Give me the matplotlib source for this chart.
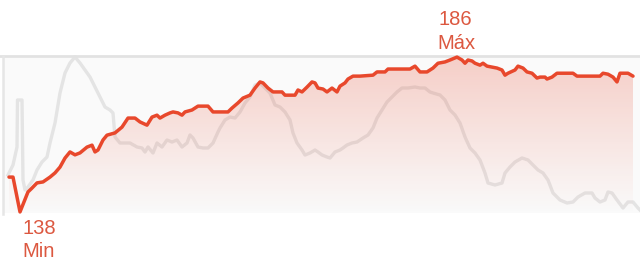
import numpy as np
import matplotlib.pyplot as plt
from matplotlib.colors import LinearSegmentedColormap

# heart rate (bpm) over elapsed time (min)
hr_time = [0.9, 1.3, 2.0, 2.8, 3.2, 3.7, 4.3, 5.0, 5.5, 6.0, 6.5, 7.0, 7.5, 8.0,
           8.7, 9.2, 9.5, 9.8, 10.3, 10.7, 11.5, 12.2, 12.8, 13.5, 14.0, 14.7,
           15.2, 15.7, 16.0, 16.5, 17.0, 17.3, 17.8, 18.2, 18.5, 19.2, 19.8,
           20.8, 21.3, 22.8, 23.2, 23.8, 24.3, 25.0, 25.5, 26.0, 26.3, 26.8,
           27.3, 28.2, 28.5, 29.5, 29.8, 30.2, 30.7, 31.2, 31.5, 31.8, 32.3,
           32.7, 33.2, 33.7, 34.0, 34.5, 34.8, 35.3, 36.0, 37.3, 37.7, 38.5,
           38.8, 41.0, 41.5, 42.0, 42.7, 43.3, 43.8, 44.5, 45.0, 45.7, 46.2,
           46.5, 46.8, 47.2, 47.5, 48.0, 48.3, 48.7, 49.2, 49.7, 50.2, 50.5,
           50.8, 51.5, 51.8, 52.3, 52.7, 53.2, 53.7, 54.0, 54.5, 54.7, 55.2,
           55.7, 57.3, 57.7, 60.0, 60.3, 60.8, 61.3, 61.7, 62.0, 62.8, 63.3]
hr_bpm = [148.8, 148.8, 138.0, 144.2, 145.4, 147.0, 147.3, 148.8, 150.1, 151.9,
          154.7, 156.6, 155.7, 156.3, 158.1, 158.7, 156.6, 157.2, 160.3, 161.8,
          162.5, 164.3, 167.1, 167.1, 165.9, 164.9, 167.4, 168.0, 167.1, 168.0,
          168.7, 169.0, 168.7, 168.0, 169.0, 169.6, 170.8, 170.8, 169.0, 169.0,
          170.2, 171.8, 173.3, 174.2, 176.4, 178.3, 178.0, 176.4, 175.2, 175.2,
          174.2, 174.2, 175.8, 175.2, 176.7, 178.3, 178.0, 176.4, 176.1, 175.2,
          176.4, 175.2, 177.0, 178.0, 179.2, 180.1, 180.1, 180.4, 181.4, 181.4,
          182.3, 182.3, 183.2, 181.4, 181.4, 182.6, 184.1, 184.5, 185.1, 186.0,
          185.1, 184.1, 185.1, 184.8, 184.1, 183.5, 184.1, 183.2, 182.9, 182.6,
          182.0, 180.4, 181.0, 182.0, 183.2, 182.6, 181.4, 181.0, 179.5, 179.8,
          179.8, 179.2, 179.8, 181.0, 181.0, 180.1, 180.1, 181.0, 180.7, 179.8,
          178.3, 181.0, 181.0, 180.1]

# background series (speed, km/h)
sp_time = [0.8, 1.3, 1.7, 1.75, 2.2, 2.3, 2.5, 2.8, 3.3, 3.7, 4.2, 4.7, 5.0,
           5.5, 6.0, 6.5, 7.0, 7.5, 8.0, 8.5, 9.0, 9.5, 10.0, 10.5, 11.0,
           11.3, 11.5, 12.0, 13.0, 13.7, 14.2, 14.5, 14.8, 15.3, 15.7, 16.2,
           16.7, 17.2, 17.7, 18.2, 18.7, 19.0, 19.3, 19.8, 20.3, 20.8, 21.3,
           21.8, 22.0, 22.5, 23.0, 23.5, 24.0, 24.5, 25.0, 25.5, 26.0, 26.5,
           27.0, 27.5, 28.0, 28.5, 29.0, 29.3, 29.7, 30.2, 30.5, 31.0, 31.5,
           31.8, 32.2, 32.7, 33.0, 33.5, 34.0, 34.3, 34.7, 35.2, 35.7, 36.3,
           36.8, 37.3, 37.7, 38.2, 38.7, 39.2, 39.7, 40.2, 40.8, 41.5, 42.0,
           42.5, 43.0, 43.3, 44.0, 44.5, 45.0, 45.5, 46.0, 46.5, 47.0, 47.5,
           48.0, 48.5, 48.8, 49.5, 50.2, 50.5, 51.0, 51.5, 52.2, 52.8, 53.3,
           53.8, 54.3, 54.8, 55.3, 56.0, 56.7, 57.3, 57.8, 58.5, 59.2, 59.5,
           60.0, 60.5, 60.8, 61.2, 61.7, 62.3, 62.8, 63.3, 63.8, 64.0]
sp_kmh = [9.5, 10.5, 12.3, 17.0, 17.0, 9.0, 8.0, 8.3, 9.0, 10.0, 10.8, 11.3,
          12.7, 14.7, 17.7, 19.7, 20.7, 21.3, 20.7, 20.0, 19.3, 18.3, 17.3,
          16.3, 16.0, 15.7, 13.3, 12.7, 12.7, 12.3, 12.2, 11.8, 12.3, 11.7,
          12.7, 12.3, 13.0, 12.8, 13.0, 12.3, 12.7, 13.5, 13.2, 12.3, 12.2,
          12.2, 12.7, 13.8, 14.2, 15.0, 15.3, 15.2, 15.8, 16.7, 17.3, 18.5,
          18.7, 18.2, 17.7, 16.5, 16.3, 15.8, 15.0, 13.7, 12.7, 12.0, 11.5,
          11.7, 12.0, 11.8, 11.5, 11.3, 11.2, 11.8, 12.0, 12.2, 12.5, 12.7,
          12.8, 13.2, 13.5, 14.2, 15.2, 16.0, 16.8, 17.3, 17.8, 18.2, 18.2,
          18.3, 18.2, 18.2, 17.8, 17.7, 17.5, 17.0, 16.0, 15.5, 14.7, 13.3,
          12.2, 11.7, 11.0, 9.7, 8.7, 8.5, 8.7, 9.7, 10.3, 10.8, 11.2, 11.0,
          10.5, 10.0, 9.7, 9.0, 7.7, 7.0, 6.7, 6.8, 7.3, 7.7, 7.7, 7.2, 6.8,
          7.0, 7.8, 7.7, 7.0, 6.2, 6.8, 6.8, 6.2, 6.0]

hr_min_label = "Min"
hr_max_label = "Máx"

red = '#e8482c'
text_red = '#dc5840'
grey_line = '#e4e4e4'

fig = plt.figure(figsize=(6.4, 2.7), dpi=100)
ax = fig.add_axes([0, 0, 1, 1])
ax.set_xlim(0, 64)
ax.set_ylim(120.0, 203.7)
ax.axis('off')

# speed on its own scale
ax2 = ax.twinx()
ax2.set_ylim(0, 27)
ax2.axis('off')
ax.set_zorder(ax2.get_zorder() + 1)
ax.patch.set_visible(False)

# plot frame: light panel, top rule and left rule
top_val = 186.3
bot_val = 137.3
ax2.axhspan(5.75, 21.25, xmin=0.004, xmax=1, color='#fafafa', zorder=0, lw=0)
ax.axhline(top_val, color='#e2e2e2', lw=2, zorder=1)
ax.plot([0.25, 0.25], [top_val, bot_val], color='#e6e6e6', lw=1.8, zorder=1)

# background speed trace
ax2.plot(sp_time, sp_kmh, color=grey_line, lw=2.4, zorder=2,
         solid_joinstyle='round')

# gradient fill under heart rate
cmap = LinearSegmentedColormap.from_list(
    'fade', [(0.91, 0.28, 0.17, 0.0), (0.91, 0.28, 0.17, 0.25)])
grad = np.linspace(0, 1, 256).reshape(-1, 1)
im = ax.imshow(grad, cmap=cmap, aspect='auto', origin='lower',
               extent=[hr_time[0], hr_time[-1], bot_val, top_val], zorder=3)
poly = ax.fill_between(hr_time, hr_bpm, bot_val, color='none', lw=0)
im.set_clip_path(poly.get_paths()[0], transform=ax.transData)

ax.plot(hr_time, hr_bpm, color=red, lw=2.5, zorder=5,
        solid_joinstyle='round', solid_capstyle='round')

# min / max annotations
i_min = int(np.argmin(hr_bpm))
i_max = int(np.argmax(hr_bpm))
lbl = dict(color=text_red, fontsize=14.5, ha='center', va='center',
           family='Liberation Sans')
ax.text(3.9, 132.9, f"{hr_bpm[i_min]:.0f}", **lbl)
ax.text(3.85, 125.6, hr_min_label, **lbl)
ax.text(45.55, 197.6, f"{hr_bpm[i_max]:.0f}", **lbl)
ax.text(45.6, 190.2, hr_max_label, **lbl)

fig.savefig('out.png', dpi=100)
